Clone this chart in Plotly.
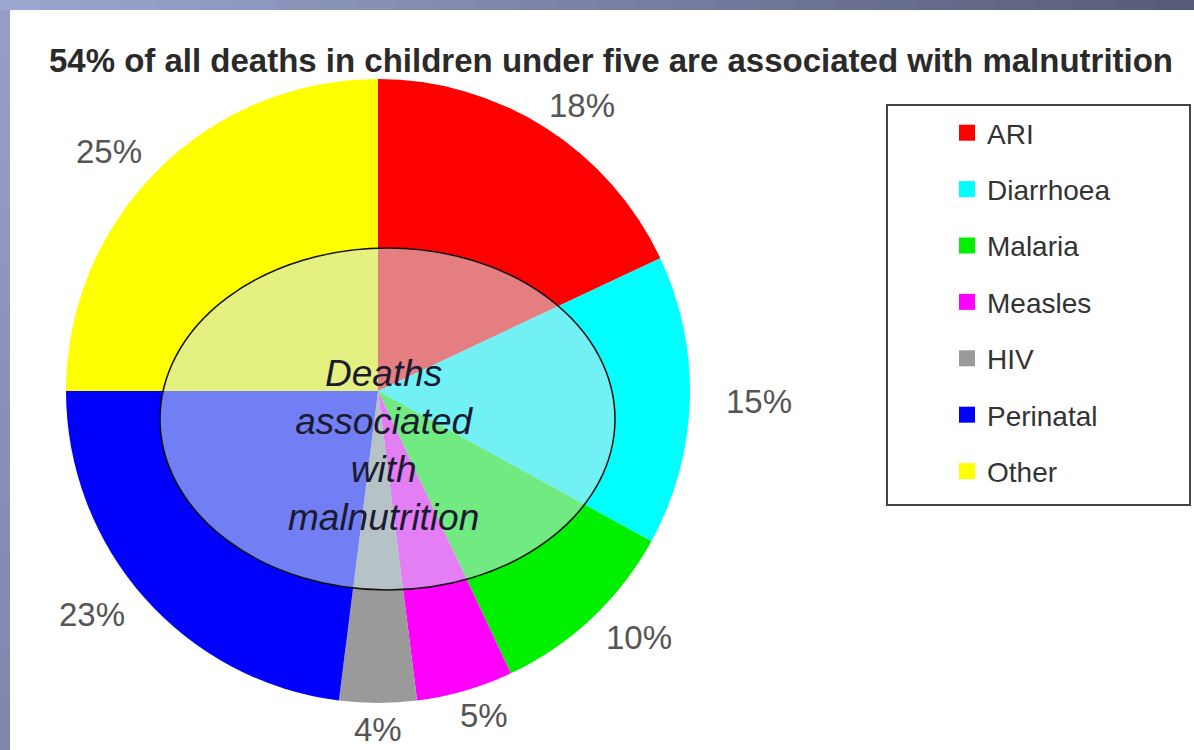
import math
import plotly.graph_objects as go

# ---------------- data ----------------
categories = ["ARI", "Diarrhoea", "Malaria", "Measles", "HIV", "Perinatal", "Other"]
values = [18, 15, 10, 5, 4, 23, 25]
colors = ["#ff0000", "#00ffff", "#00f000", "#ff00ff", "#9a9a9a", "#0000ff", "#ffff00"]
title_text = "54% of all deaths in children under five are associated with malnutrition"
center_text = "Deaths<br>associated<br>with<br>malnutrition"

# ---------------- layout geometry (pixels) ----------------
W, H = 1194, 750
cx, cy, R = 378, 391, 312          # pie centre / radius
LX, LY = 381, 338                  # label radii
FONT = "Liberation Sans, Arial, sans-serif"

def px(x):
    return x / W

def py(y):
    return 1 - y / H

fig = go.Figure()

fig.add_trace(go.Pie(
    labels=categories, values=values, sort=False, direction="clockwise", rotation=0,
    marker=dict(colors=colors, line=dict(width=0)),
    textinfo="none", hoverinfo="label+percent", showlegend=False,
    domain=dict(x=[px(cx - R), px(cx + R)], y=[py(cy + R), py(cy - R)]),
))

# legend entries (one group each so the spacing can match the original)
for name, col in zip(categories, colors):
    fig.add_trace(go.Scatter(
        x=[None], y=[None], mode="markers", name=name, legendgroup=name,
        marker=dict(symbol="square", size=16, color=col), hoverinfo="skip",
    ))

# percentage labels outside each slice
annotations = []
total = sum(values)
cum = 0
for v in values:
    mid = (cum + v / 2) / total * 2 * math.pi
    cum += v
    x = cx + LX * math.sin(mid)
    y = cy - LY * math.cos(mid)
    annotations.append(dict(
        x=px(x), y=py(y), xref="paper", yref="paper", text=f"{v}%", showarrow=False,
        font=dict(family=FONT, size=33, color="#555555"), xanchor="center", yanchor="middle",
    ))

annotations.append(dict(
    x=px(383), y=py(445), xref="paper", yref="paper", text=center_text, showarrow=False,
    font=dict(family=FONT, size=37, color="#1a1a30", style="italic"),
    xanchor="center", yanchor="middle", align="center",
))

shapes = []
# slide background strips (top gradient and left edge)
top_l = (156, 166, 206)
top_r = (88, 92, 124)
n = 30
for i in range(n):
    t = i / (n - 1)
    c = tuple(round(a + (b - a) * t) for a, b in zip(top_l, top_r))
    shapes.append(dict(type="rect", xref="paper", yref="paper",
                       x0=i / n, x1=(i + 1) / n + 0.001, y0=py(10), y1=1,
                       fillcolor=f"rgb{c}", line=dict(width=0), layer="above"))
left_t = (150, 158, 200)
left_b = (128, 133, 172)
m = 15
for i in range(m):
    t = i / (m - 1)
    c = tuple(round(a + (b - a) * t) for a, b in zip(left_t, left_b))
    y0 = 10 + (H - 10) * i / m
    y1 = 10 + (H - 10) * (i + 1) / m + 1
    shapes.append(dict(type="rect", xref="paper", yref="paper",
                       x0=0, x1=px(10), y0=py(y1), y1=py(y0),
                       fillcolor=f"rgb{c}", line=dict(width=0), layer="above"))

# translucent inner ellipse
shapes.append(dict(type="circle", xref="paper", yref="paper",
                   x0=px(160), x1=px(615), y0=py(590), y1=py(248),
                   fillcolor="rgba(205,230,235,0.55)", line=dict(color="#111111", width=1.5),
                   layer="above"))
# legend frame
shapes.append(dict(type="rect", xref="paper", yref="paper",
                   x0=px(887), x1=px(1190), y0=py(505), y1=py(105),
                   fillcolor="rgba(0,0,0,0)", line=dict(color="#444444", width=2),
                   layer="above"))

fig.update_layout(
    width=W, height=H,
    margin=dict(l=0, r=0, t=0, b=0),
    paper_bgcolor="white", plot_bgcolor="white",
    title=dict(text=title_text, x=px(611), y=py(60), xanchor="center", yanchor="middle",
               font=dict(family=FONT, size=33, color="#2a2a2a", weight="bold")),
    xaxis=dict(visible=False), yaxis=dict(visible=False),
    showlegend=True,
    legend=dict(x=px(947), y=py(108), xanchor="left", yanchor="top",
                traceorder="grouped", tracegroupgap=17,
                font=dict(family=FONT, size=28, color="#333333"),
                bgcolor="rgba(0,0,0,0)", borderwidth=0),
    annotations=annotations, shapes=shapes,
)

fig.write_html(
    "out.html",
    config={"displayModeBar": False},
    post_script="document.body.style.margin='0';document.body.style.overflow='hidden';",
)
